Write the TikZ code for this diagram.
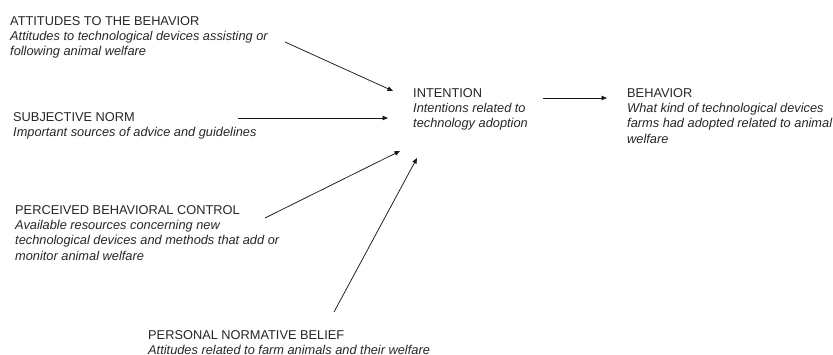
\documentclass[tikz,border=0pt]{standalone}
\usepackage{fontspec}
\setmainfont{Liberation Sans}
\usetikzlibrary{arrows.meta}
\begin{document}
\begin{tikzpicture}[x=1pt,y=-1pt,
  block/.style={anchor=north west, inner sep=0pt, align=left, text=black!85,
    font=\fontsize{12.8}{15.3}\selectfont},
  link/.style={draw=black!90, line width=0.75pt, -{Triangle[length=5.5pt,width=4.5pt]}}]
\useasboundingbox (0,0) rectangle (833,355);

\node[block] (att) at (10,16) {ATTITUDES TO THE BEHAVIOR\\
  \itshape Attitudes to technological devices assisting or\\
  \itshape following animal welfare};
\node[block] (sn) at (13,112) {SUBJECTIVE NORM\\
  \itshape Important sources of advice and guidelines};
\node[block] (pbc) at (15,205) {PERCEIVED BEHAVIORAL CONTROL\\
  \itshape Available resources concerning new\\
  \itshape technological devices and methods that add or\\
  \itshape monitor animal welfare};
\node[block] (pnb) at (148,330) {PERSONAL NORMATIVE BELIEF\\
  \itshape Attitudes related to farm animals and their welfare};
\node[block] (int) at (413,88) {INTENTION\\
  \itshape Intentions related to\\
  \itshape technology adoption};
\node[block] (beh) at (627,88) {BEHAVIOR\\
  \itshape What kind of technological devices\\
  \itshape farms had adopted related to animal\\
  \itshape welfare};

% connector end points
\coordinate (att-out) at (285,42);
\coordinate (att-in)  at (393,91);
\coordinate (sn-out)  at (238,118);
\coordinate (sn-in)   at (388,118);
\coordinate (pbc-out) at (265,218);
\coordinate (pbc-in)  at (400,151);
\coordinate (pnb-out) at (334,312);
\coordinate (pnb-in)  at (417,158);
\coordinate (int-out) at (543,98);
\coordinate (beh-in)  at (607,98);

\draw[link] (att-out) -- (att-in);
\draw[link] (sn-out) -- (sn-in);
\draw[link] (pbc-out) -- (pbc-in);
\draw[link] (pnb-out) -- (pnb-in);
\draw[link] (int-out) -- (beh-in);
\end{tikzpicture}
\end{document}
